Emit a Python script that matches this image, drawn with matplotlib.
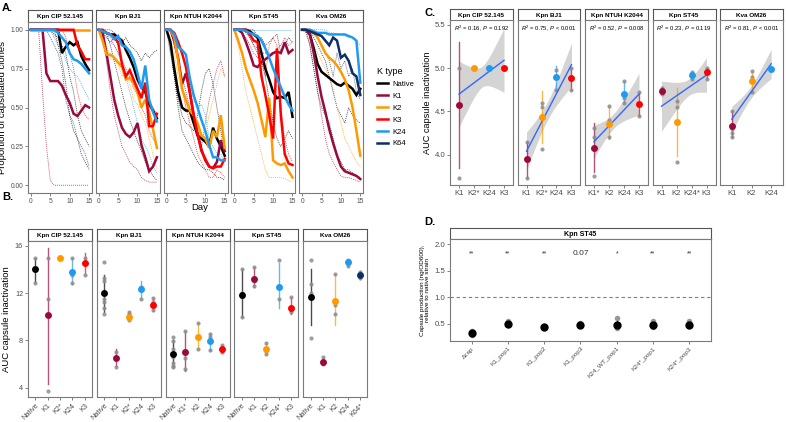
import numpy as np
import matplotlib
matplotlib.use('Agg')
import matplotlib.pyplot as plt
from matplotlib.lines import Line2D

plt.rcParams['font.family'] = ['Liberation Sans', 'DejaVu Sans']
plt.rcParams['mathtext.fontset'] = 'custom'
plt.rcParams['mathtext.rm'] = 'Liberation Sans'
plt.rcParams['mathtext.it'] = 'Liberation Sans:italic'

W, H = 786, 422
BORDER = '#7a7a7a'
TICKC = '#4d4d4d'

kcol = {'Native': '#000000', 'K1': '#990a3d', 'K2': '#ff9900',
        'K3': '#ff0000', 'K24': '#1e9bf0', 'K64': '#0b2f66'}
strains = ['Kpn CIP 52.145', 'Kpn BJ1', 'Kpn NTUH K2044', 'Kpn ST45', 'Kva OM26']

# ---- panel A : proportion of capsulated clones (means) ----
days = list(range(16))
cip_native = [1, 1, 1, 1, 1, 1, 1, 1, 0.85, 0.89, 0.92, 0.90, 0.92, 0.83, 0.78, 0.74]
cip_k1 = [1, 1, 1, 1, 0.72, 0.67, 0.67, 0.67, 0.64, 0.58, 0.53, 0.46, 0.445, 0.48, 0.515, 0.50]
cip_k2 = [1, 1, 1, 1, 1, 1, 1, 1, 1, 1, 1, 1, 1, 1, 1, 1]
cip_k3 = [1, 1, 1, 1, 1, 1, 1, 1, 1, 1, 1, 1, 0.90, 0.86, 0.81, 0.81]
cip_k24 = [1, 1, 1, 1, 1, 1, 1, 0.98, 0.95, 0.92, 0.85, 0.81, 0.80, 0.78, 0.75, 0.72]

bj1_native = [1, 0.99, 0.98, 0.97, 0.97, 0.95, 0.93, 0.87, 0.82, 0.76, 0.68, 0.63, 0.60, 0.52, 0.48, 0.43]
bj1_k1 = [1, 0.98, 0.85, 0.70, 0.55, 0.45, 0.37, 0.33, 0.31, 0.34, 0.40, 0.26, 0.18, 0.09, 0.12, 0.18]
bj1_k2 = [1, 0.93, 0.84, 0.84, 0.82, 0.79, 0.76, 0.68, 0.69, 0.66, 0.60, 0.50, 0.55, 0.47, 0.36, 0.24]
bj1_k3 = [1, 1, 0.98, 0.97, 0.95, 0.92, 0.78, 0.70, 0.74, 0.68, 0.62, 0.56, 0.66, 0.38, 0.38, 0.46]
bj1_k24 = [1, 0.99, 0.98, 0.97, 0.94, 0.96, 0.90, 0.89, 0.86, 0.81, 0.72, 0.62, 0.77, 0.55, 0.47, 0.41]

ntuh_native = [1, 0.92, 0.75, 0.60, 0.50, 0.48, 0.48, 0.40, 0.32, 0.30, 0.28, 0.25, 0.37, 0.30, 0.25, 0.19]
ntuh_k1 = [1, 1, 0.93, 0.82, 0.65, 0.72, 0.60, 0.45, 0.33, 0.23, 0.16, 0.12, 0.11, 0.15, 0.29, 0.22]
ntuh_k2 = [1, 1, 0.95, 0.80, 0.62, 0.55, 0.48, 0.45, 0.40, 0.32, 0.30, 0.24, 0.35, 0.31, 0.45, 0.24]
ntuh_k3 = [1, 1, 0.98, 0.92, 0.85, 0.76, 0.60, 0.45, 0.33, 0.22, 0.17, 0.12, 0.11, 0.12, 0.12, 0.17]
ntuh_k24 = [1, 1, 0.97, 0.89, 0.87, 0.84, 0.69, 0.58, 0.50, 0.42, 0.35, 0.26, 0.18, 0.18, 0.16, 0.16]

st45_native = [1, 1, 1, 1, 0.99, 0.97, 0.95, 0.85, 0.75, 0.68, 0.60, 0.56, 0.57, 0.56, 0.60, 0.44]
st45_k1 = [1, 1, 0.98, 0.92, 0.85, 0.77, 0.76, 0.79, 0.81, 0.83, 0.85, 0.86, 0.85, 0.92, 0.85, 0.87]
st45_k2 = [1, 0.93, 0.85, 0.75, 0.68, 0.61, 0.53, 0.42, 0.31, 0.56, 0.16, 0.14, 0.13, 0.14, 0.09, 0.05]
st45_k3 = [1, 1, 1, 1, 0.97, 0.93, 0.92, 0.70, 0.58, 0.45, 0.30, 0.88, 0.45, 0.20, 0.14, 0.13]
st45_k24 = [1, 1, 1, 0.99, 0.98, 0.97, 0.96, 0.93, 0.88, 0.82, 0.75, 0.69, 0.63, 0.57, 0.52, 0.48]

om26_native = [1, 1, 0.97, 0.88, 0.78, 0.73, 0.71, 0.69, 0.67, 0.65, 0.64, 0.66, 0.64, 0.62, 0.58, 0.62]
om26_k1 = [1, 1, 0.97, 0.85, 0.70, 0.57, 0.47, 0.36, 0.27, 0.19, 0.12, 0.09, 0.08, 0.07, 0.06, 0.04]
om26_k2 = [1, 1, 1, 0.98, 0.95, 0.90, 0.85, 0.82, 0.80, 0.77, 0.73, 0.68, 0.61, 0.50, 0.35, 0.19]
om26_k24 = [1, 1, 1, 0.99, 0.98, 0.98, 0.98, 0.97, 0.97, 0.97, 0.97, 0.97, 0.96, 0.95, 0.93, 0.66]
om26_k64 = [1, 1, 0.99, 0.98, 0.97, 0.96, 0.93, 0.90, 0.95, 0.93, 0.82, 0.84, 0.80, 0.72, 0.70, 0.58]

# replicate populations (thin dotted lines)
cip_reps = [('K1', [1, 1, 1, 0.6, 0.25, 0.03, 0, 0, 0, 0, 0, 0, 0, 0, 0, 0]),
            ('K3', [1, 1, 1, 1, 1, 1, 1, 1, 1, 0.95, 0.85, 0.75, 0.6, 0.5, 0.45, 0.42]),
            ('Native', [1, 1, 1, 1, 1, 1, 1, 0.9, 0.8, 0.65, 0.45, 0.35, 0.3, 0.2, 0.15, 0.1]),
            ('K64', [1, 1, 1, 1, 1, 0.95, 0.9, 0.85, 0.75, 0.55, 0.45, 0.4, 0.3, 0.25, 0.2, 0.12]),
            ('K24', [1, 1, 1, 1, 1, 1, 0.95, 0.9, 0.88, 0.8, 0.75, 0.72, 0.7, 0.65, 0.6, 0.55]),
            ('Native', [1, 1, 1, 1, 1, 1, 0.97, 0.95, 0.9, 0.85, 0.7, 0.6, 0.45, 0.35, 0.3, 0.25])]
bj1_reps = [('Native', [1, 0.98, 0.95, 0.92, 0.95, 0.9, 0.92, 0.95, 0.9, 0.88, 0.85, 0.8, 0.85, 0.82, 0.85, 0.87]),
            ('Native', [1, 1, 0.98, 0.9, 0.8, 0.7, 0.6, 0.5, 0.42, 0.35, 0.28, 0.22, 0.15, 0.1, 0.06, 0.03]),
            ('K24', [1, 0.98, 0.95, 0.92, 0.9, 0.85, 0.78, 0.7, 0.6, 0.5, 0.4, 0.3, 0.25, 0.2, 0.12, 0.08]),
            ('K2', [1, 0.95, 0.9, 0.82, 0.8, 0.78, 0.7, 0.72, 0.65, 0.55, 0.52, 0.45, 0.4, 0.3, 0.2, 0.1]),
            ('K1', [1, 0.95, 0.8, 0.6, 0.45, 0.35, 0.25, 0.2, 0.15, 0.12, 0.1, 0.05, 0.03, 0.02, 0.02, 0.02]),
            ('K3', [1, 1, 0.97, 0.95, 0.9, 0.85, 0.8, 0.75, 0.7, 0.62, 0.58, 0.5, 0.45, 0.35, 0.3, 0.25]),
            ('K64', [1, 1, 1, 1, 0.98, 0.96, 0.92, 0.9, 0.82, 0.75, 0.7, 0.65, 0.6, 0.55, 0.5, 0.45])]
ntuh_reps = [('Native', [1, 0.85, 0.7, 0.55, 0.45, 0.4, 0.38, 0.35, 0.45, 0.6, 0.72, 0.75, 0.65, 0.5, 0.35, 0.2]),
             ('K1', [1, 1, 0.9, 0.8, 0.7, 0.6, 0.5, 0.4, 0.3, 0.25, 0.4, 0.55, 0.65, 0.75, 0.8, 0.7]),
             ('K2', [1, 0.95, 0.85, 0.7, 0.6, 0.5, 0.45, 0.4, 0.35, 0.3, 0.35, 0.45, 0.55, 0.65, 0.75, 0.7]),
             ('Native', [1, 0.9, 0.7, 0.5, 0.35, 0.3, 0.25, 0.2, 0.15, 0.12, 0.1, 0.1, 0.08, 0.05, 0.05, 0.03]),
             ('K24', [1, 1, 0.95, 0.9, 0.85, 0.75, 0.65, 0.55, 0.5, 0.52, 0.45, 0.3, 0.25, 0.2, 0.2, 0.15]),
             ('K3', [1, 1, 0.9, 0.8, 0.65, 0.5, 0.4, 0.3, 0.2, 0.15, 0.1, 0.05, 0.05, 0.1, 0.08, 0.05])]
st45_reps = [('K24', [1, 1, 1, 1, 1, 1, 1, 1, 1, 1, 1, 1, 1, 1, 1, 1]),
             ('K2', [1, 0.9, 0.75, 0.6, 0.5, 0.4, 0.3, 0.2, 0.1, 0.05, 0.05, 0.05, 0.05, 0.04, 0.03, 0.02]),
             ('Native', [1, 1, 1, 0.98, 0.95, 0.9, 0.85, 0.8, 0.7, 0.55, 0.4, 0.3, 0.25, 0.3, 0.35, 0.3]),
             ('K3', [1, 1, 1, 1, 0.95, 0.9, 0.88, 0.8, 0.7, 0.9, 0.95, 0.9, 0.5, 0.3, 0.2, 0.15]),
             ('K1', [1, 1, 0.98, 0.95, 0.9, 0.85, 0.82, 0.85, 0.85, 0.85, 0.85, 0.88, 0.9, 0.95, 0.9, 0.92]),
             ('Native', [1, 1, 1, 1, 1, 1, 0.95, 0.95, 0.9, 0.92, 0.95, 0.97, 0.85, 0.9, 0.95, 0.92])]
om26_reps = [('Native', [1, 1, 0.9, 0.75, 0.6, 0.5, 0.45, 0.4, 0.3, 0.2, 0.15, 0.1, 0.1, 0.08, 0.06, 0.05]),
             ('Native', [1, 1, 1, 0.95, 0.9, 0.85, 0.8, 0.7, 0.6, 0.5, 0.45, 0.4, 0.5, 0.45, 0.42, 0.4]),
             ('K2', [1, 1, 0.98, 0.9, 0.85, 0.8, 0.75, 0.7, 0.62, 0.5, 0.4, 0.3, 0.25, 0.2, 0.15, 0.12]),
             ('K64', [1, 1, 1, 0.98, 0.95, 0.9, 0.85, 0.8, 0.7, 0.85, 0.75, 0.8, 0.7, 0.75, 0.6, 0.55]),
             ('K1', [1, 0.98, 0.9, 0.75, 0.6, 0.45, 0.3, 0.2, 0.15, 0.1, 0.06, 0.05, 0.05, 0.04, 0.03, 0.02]),
             ('K24', [1, 1, 1, 1, 1, 1, 1, 0.98, 0.98, 0.97, 0.97, 0.96, 0.95, 0.95, 0.93, 0.9])]

a_means = [
    [('Native', cip_native), ('K1', cip_k1), ('K2', cip_k2), ('K3', cip_k3), ('K24', cip_k24)],
    [('Native', bj1_native), ('K1', bj1_k1), ('K2', bj1_k2), ('K3', bj1_k3), ('K24', bj1_k24)],
    [('Native', ntuh_native), ('K1', ntuh_k1), ('K2', ntuh_k2), ('K3', ntuh_k3), ('K24', ntuh_k24)],
    [('Native', st45_native), ('K1', st45_k1), ('K2', st45_k2), ('K3', st45_k3), ('K24', st45_k24)],
    [('Native', om26_native), ('K1', om26_k1), ('K2', om26_k2), ('K24', om26_k24), ('K64', om26_k64)],
]
a_reps = [cip_reps, bj1_reps, ntuh_reps, st45_reps, om26_reps]

# ---- panel B : AUC capsule inactivation ----
b_cats = [['Native', 'K1', 'K2*', 'K24', 'K3'],
          ['Native', 'K1', 'K2*', 'K24', 'K3'],
          ['Native', 'K1*', 'K2', 'K24', 'K3'],
          ['Native', 'K1', 'K2', 'K24*', 'K3'],
          ['Native', 'K1', 'K2', 'K24', 'K64*']]
b_mean = [[14.0, 10.1, 15.0, 13.8, 14.5],
          [12.0, 6.5, 10.0, 12.3, 11.0],
          [6.85, 7.0, 8.3, 7.9, 7.25],
          [11.85, 13.2, 7.3, 12.5, 10.75],
          [11.7, 6.2, 11.3, 14.6, 13.5]]
b_lo = [[12.9, 4.3, 15.0, 12.8, 13.6],
        [10.4, 5.8, 9.7, 11.6, 10.5],
        [5.7, 5.4, 7.3, 7.1, 6.9],
        [10.0, 12.5, 6.9, 10.7, 10.2],
        [9.3, 6.0, 9.3, 14.3, 13.2]]
b_hi = [[15.0, 15.8, 15.0, 15.0, 15.4],
        [13.5, 7.3, 10.3, 13.0, 11.6],
        [8.0, 8.8, 9.5, 8.6, 7.6],
        [14.0, 14.2, 7.8, 14.5, 11.6],
        [14.0, 6.5, 13.6, 14.8, 13.9]]
b_pts = [[[15.0, 14.0, 12.85], [15.0, 11.5, 3.7], [15.0], [15.0, 13.5, 12.85], [15.0, 13.5]],
         [[14.6, 13.3, 13.0, 12.0, 11.5, 11.2, 10.7, 10.2], [7.0, 6.5, 5.7], [10.4, 10.2, 9.7], [12.5, 11.5], [11.6, 11.2, 10.6]],
         [[8.3, 7.9, 7.3, 6.6, 6.1, 5.8, 5.7], [8.8, 6.5, 5.6], [9.5, 7.3], [8.5, 8.3, 7.2], [7.6, 7.1, 7.0]],
         [[14.0, 12.0, 11.7, 10.0], [14.2, 13.0, 12.6], [7.8, 7.1, 6.8], [14.8, 11.5], [11.7, 10.6, 10.4]],
         [[14.8, 12.8, 12.0, 8.2], [6.6, 6.1, 6.0], [13.6, 11.0, 10.2], [14.8, 14.3], [13.8, 13.3]]]

# ---- panel C : AUC (log) vs K type with linear fit ----
c_cats = [['K1', 'K2*', 'K24', 'K3'],
          ['K1', 'K2*', 'K24', 'K3'],
          ['K1*', 'K2', 'K24', 'K3'],
          ['K1', 'K2', 'K24*', 'K3'],
          ['K1', 'K2', 'K24']]
c_mean = [[4.57, 5.0, 5.0, 5.0],
          [3.95, 4.43, 4.90, 4.89],
          [4.08, 4.35, 4.70, 4.59],
          [4.74, 4.38, 4.92, 4.95],
          [4.33, 4.85, 4.99]]
c_lo = [[3.85, 5.0, 5.0, 5.0],
        [3.73, 4.13, 4.75, 4.75],
        [3.80, 4.18, 4.60, 4.45],
        [4.70, 3.98, 4.88, 4.87],
        [4.20, 4.72, 4.99]]
c_hi = [[5.30, 5.0, 5.0, 5.0],
        [4.15, 4.73, 5.03, 5.00],
        [4.37, 4.56, 4.85, 4.72],
        [4.78, 4.77, 4.95, 5.00],
        [4.50, 4.97, 4.99]]
c_pts = [[[5.0, 3.73], [5.0], [5.0], [5.0]],
         [[4.15, 3.73], [4.6, 4.55, 4.07], [4.98, 4.75], [5.0, 4.75]],
         [[4.31, 4.20, 3.75], [4.56, 4.4, 4.2], [4.85, 4.65, 4.6], [4.72, 4.45]],
         [[4.77, 4.70], [4.62, 4.55, 3.92], [4.95, 4.88], [5.0, 4.87]],
         [[4.5, 4.3, 4.25, 4.2], [4.97, 4.9, 4.72], [4.99]]]
c_fit_ends = [(4.70, 5.09), (4.04, 5.04), (4.15, 4.70), (4.56, 4.92), (4.41, 5.05)]
c_band = [(0.38, 0.12, 0.37), (0.22, 0.105, 0.25), (0.19, 0.085, 0.24),
          (0.29, 0.095, 0.20), (0.15, 0.07, 0.17)]
c_r2 = ['0.16', '0.75', '0.52', '0.23', '0.81']
c_p = ['= 0.192', '< 0.001', '= 0.008', '= 0.119', '< 0.001']

# ---- panel D : capsule production ----
d_cats = ['Δcap', 'K1_pop1', 'K1_pop2', 'K1_pop3', 'K24_WT_pop1', 'K24*_pop1', 'K24*_pop3']
d_mean = [0.33, 0.50, 0.45, 0.48, 0.49, 0.49, 0.49]
d_lo = [0.29, 0.47, 0.43, 0.44, 0.42, 0.45, 0.45]
d_hi = [0.37, 0.54, 0.47, 0.53, 0.56, 0.53, 0.54]
d_pts = [[0.36, 0.30], [0.55, 0.48], [0.46, 0.43], [0.52, 0.46], [0.62, 0.45, 0.42], [0.55, 0.45], [0.56, 0.46]]
d_sig = ['**', '**', '**', '0.07', '*', '**', '**']


fig = plt.figure(figsize=(W / 100, H / 100), dpi=100)


def add(l, t, r, b):
    return fig.add_axes([l / W, 1 - b / H, (r - l) / W, (b - t) / H])


def style(ax, size=4.8):
    for s in ax.spines.values():
        s.set_color(BORDER)
        s.set_linewidth(0.8)
    ax.tick_params(length=2, width=0.5, color=TICKC, labelcolor=TICKC,
                   labelsize=size, pad=1.5)


def strip(l, t, r, b, label, size=4.6):
    ax = add(l, t, r, b)
    ax.set_xticks([])
    ax.set_yticks([])
    for s in ax.spines.values():
        s.set_color('#555555')
        s.set_linewidth(0.8)
    ax.text(0.5, 0.45, label, ha='center', va='center', fontsize=size,
            fontweight='bold', transform=ax.transAxes)
    return ax


def ktype(lab):
    return lab.replace('*', '')


# ================= A =================
for i in range(5):
    l = 28 + i * 67.8
    r = l + 64
    strip(l, 10, r, 22, strains[i])
    ax = add(l, 22, r, 193)
    for kt, vals in a_reps[i]:
        ax.plot(days, vals, color=kcol[kt], lw=0.6, ls=(0, (1.2, 1.2)), alpha=0.75)
    for kt, vals in a_means[i]:
        ax.plot(days, vals, color=kcol[kt], lw=1.8, solid_joinstyle='miter')
    ax.set_xlim(-0.75, 15.75)
    ax.set_ylim(-0.05, 1.05)
    ax.set_xticks([0, 5, 10, 15])
    ax.set_yticks([0, 0.25, 0.5, 0.75, 1.0])
    style(ax)
    if i == 0:
        ax.set_yticklabels(['0.00', '0.25', '0.50', '0.75', '1.00'])
        ax.set_ylabel('Proportion of capsulated clones', fontsize=6.8, labelpad=2)
    else:
        ax.set_yticklabels([])
        ax.tick_params(axis='y', length=0)
fig.text(200 / W, 1 - 208 / H, 'Day', ha='center', va='center', fontsize=6.8)
fig.text(2 / W, 1 - 8 / H, 'A.', fontsize=8, fontweight='bold', va='center')

handles = [Line2D([], [], color=kcol[k], lw=1.8) for k in kcol]
leg = fig.legend(handles, list(kcol.keys()), title='K type', frameon=False,
                 loc='upper left', bbox_to_anchor=(370 / W, 1 - 60 / H),
                 fontsize=5.5, title_fontsize=6.5, handlelength=1.4,
                 handletextpad=0.6, labelspacing=0.6)
leg._legend_box.align = 'left'

# ================= B =================
for i in range(5):
    l = 28 + i * 68.8
    r = l + 64
    strip(l, 229, r, 241, strains[i])
    ax = add(l, 241, r, 397)
    cats = b_cats[i]
    x = np.arange(1, len(cats) + 1)
    for j, c in enumerate(cats):
        col = kcol[ktype(c)]
        ax.plot([x[j], x[j]], [b_lo[i][j], b_hi[i][j]], color=col, lw=1.0, alpha=0.7, zorder=2)
        ax.plot([x[j]] * len(b_pts[i][j]), b_pts[i][j], 'o', color='#8c8c8c', ms=3,
                alpha=0.85, mec='none', zorder=3)
        ax.plot(x[j], b_mean[i][j], 'o', color=col, ms=5, mec='none', zorder=4)
    ax.set_xlim(0.4, len(cats) + 0.6)
    ax.set_ylim(3.2, 16.4)
    ax.set_xticks(x)
    ax.set_xticklabels(cats, rotation=45, ha='right', rotation_mode='anchor')
    ax.set_yticks([4, 8, 12, 16])
    style(ax, 5.2)
    if i == 0:
        ax.set_ylabel('AUC capsule inactivation', fontsize=6.8, labelpad=3)
    else:
        ax.set_yticklabels([])
        ax.tick_params(axis='y', length=0)
fig.text(2 / W, 1 - 197 / H, 'B.', fontsize=8, fontweight='bold', va='center')

# ================= C =================
for i in range(5):
    l = 450 + i * 67.5
    r = l + 63
    strip(l, 9, r, 20.5, strains[i])
    ax = add(l, 20.5, r, 185)
    cats = c_cats[i]
    n = len(cats)
    x = np.arange(1, n + 1)
    # fitted line and its confidence band
    y0, y1 = c_fit_ends[i]
    hl, hc, hr = c_band[i]
    a = np.sqrt(hl ** 2 - hc ** 2)
    b = np.sqrt(hr ** 2 - hc ** 2)
    xc = (1 * b + n * a) / (a + b)
    k = (a / (xc - 1)) ** 2
    xs = np.linspace(1, n, 100)
    ys = y0 + (y1 - y0) * (xs - 1) / (n - 1)
    hw = np.sqrt(hc ** 2 + k * (xs - xc) ** 2)
    ax.fill_between(xs, ys - hw, ys + hw, color='#d4d4d4', lw=0, zorder=1)
    for j, c in enumerate(cats):
        col = kcol[ktype(c)]
        ax.plot([x[j], x[j]], [c_lo[i][j], c_hi[i][j]], color=col, lw=1.0, alpha=0.7, zorder=2)
        ax.plot([x[j]] * len(c_pts[i][j]), c_pts[i][j], 'o', color='#8c8c8c', ms=3,
                alpha=0.85, mec='none', zorder=3)
    ax.plot(xs, ys, color='#3366ff', lw=1.0, zorder=4)
    for j, c in enumerate(cats):
        ax.plot(x[j], c_mean[i][j], 'o', color=kcol[ktype(c)], ms=5, mec='none', zorder=5)
    ax.text(0.5, 0.985, r'$\it{R}^2$ = ' + c_r2[i] + r', $\it{P}$ ' + c_p[i],
            transform=ax.transAxes, fontsize=4.2, ha='center', va='top')
    ax.set_xlim(0.4, n + 0.6)
    ax.set_ylim(3.65, 5.55)
    ax.set_xticks(x)
    ax.set_xticklabels(cats)
    ax.set_yticks([4.0, 4.5, 5.0, 5.5])
    style(ax, 5.6)
    if i == 0:
        ax.set_ylabel('AUC capsule inactivation', fontsize=6.6, labelpad=2)
    else:
        ax.set_yticklabels([])
        ax.tick_params(axis='y', length=0)
fig.text(424 / W, 1 - 13 / H, 'C.', fontsize=8, fontweight='bold', va='center')

# ================= D =================
strip(450, 228, 711, 239, 'Kpn ST45', size=5)
ax = add(450, 239, 711, 341)
x = np.arange(1, len(d_cats) + 1)
ax.axhline(1.0, color='#7f7f7f', lw=0.8, ls=(0, (3, 2.5)))
for j in range(len(d_cats)):
    ax.plot([x[j]] * len(d_pts[j]), d_pts[j], 'o', color='#999999', ms=4, mec='none', zorder=2)
    ax.plot([x[j], x[j]], [d_lo[j], d_hi[j]], color='black', lw=0.8, zorder=3)
    ax.plot(x[j], d_mean[j], 'o', color='black', ms=6, mec='none', zorder=4)
    sig = d_sig[j]
    ax.text(x[j], 1.82, sig, ha='center', va='center',
            fontsize=6 if sig[0].isdigit() else 5, color='#333333')
ax.set_xlim(0.4, len(d_cats) + 0.6)
ax.set_ylim(0.18, 2.1)
ax.set_xticks(x)
ax.set_xticklabels(d_cats, rotation=45, ha='right', rotation_mode='anchor')
ax.set_yticks([0.5, 1.0, 1.5, 2.0])
style(ax, 5.6)
ax.tick_params(axis='x', labelsize=4.6)
ax.set_ylabel('Capsule production (ng/OD600),\nrelative to native strain', fontsize=4.6,
              labelpad=3, linespacing=1.0)
fig.text(424 / W, 1 - 222 / H, 'D.', fontsize=8, fontweight='bold', va='center')

fig.savefig('out.png', dpi=100)
